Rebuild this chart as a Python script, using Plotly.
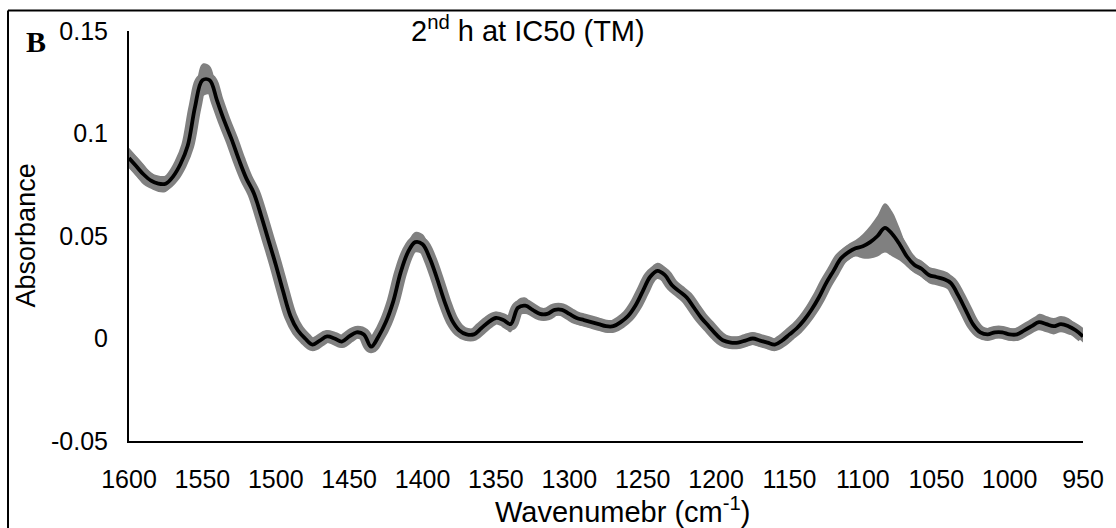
import plotly.graph_objects as go

# ---- data ----
wavenumber = list(range(1600, 945, -5))
absorbance = [
    0.088, 0.084, 0.080, 0.077, 0.0755, 0.0755, 0.079, 0.085, 0.094, 0.113,   # 1600-1555
    0.126, 0.126, 0.116, 0.106, 0.097, 0.087, 0.078, 0.071, 0.060, 0.048,     # 1550-1505
    0.036, 0.023, 0.011, 0.004, 0.000, -0.003, -0.001, 0.001, 0.000, -0.0015, # 1500-1455
    0.001, 0.003, 0.002, -0.004, 0.001, 0.008, 0.018, 0.032, 0.042, 0.047,    # 1450-1405
    0.046, 0.039, 0.029, 0.018, 0.009, 0.004, 0.002, 0.002, 0.005, 0.008,     # 1400-1355
    0.010, 0.009, 0.007, 0.015, 0.016, 0.014, 0.012, 0.012, 0.014, 0.014,     # 1350-1305
    0.012, 0.010, 0.009, 0.008, 0.007, 0.006, 0.006, 0.008, 0.011, 0.016,     # 1300-1255
    0.023, 0.030, 0.033, 0.031, 0.026, 0.023, 0.020, 0.015, 0.010, 0.006,     # 1250-1205
    0.002, -0.001, -0.002, -0.002, -0.001, 0.000, -0.001, -0.002, -0.003, -0.001,  # 1200-1155
    0.002, 0.005, 0.009, 0.014, 0.020, 0.027, 0.033, 0.039, 0.042, 0.044,     # 1150-1105
    0.045, 0.047, 0.050, 0.054, 0.051, 0.046, 0.040, 0.036, 0.034, 0.031,     # 1100-1055
    0.030, 0.029, 0.027, 0.021, 0.014, 0.007, 0.003, 0.002, 0.003, 0.003,     # 1050-1005
    0.002, 0.002, 0.004, 0.006, 0.008, 0.007, 0.006, 0.007, 0.006, 0.004,     # 1000-955
    0.001,                                                                    # 950
]
error = [
    0.005, 0.005, 0.005, 0.004, 0.004, 0.004, 0.004, 0.005, 0.005, 0.006,
    0.008, 0.007, 0.005, 0.004, 0.004, 0.004, 0.004, 0.003, 0.003, 0.003,
    0.003, 0.003, 0.003, 0.003, 0.003, 0.003, 0.003, 0.003, 0.003, 0.003,
    0.003, 0.003, 0.003, 0.003, 0.003, 0.003, 0.004, 0.005, 0.005, 0.005,
    0.005, 0.005, 0.004, 0.003, 0.003, 0.003, 0.003, 0.003, 0.003, 0.003,
    0.003, 0.003, 0.004, 0.004, 0.004, 0.003, 0.003, 0.003, 0.003, 0.003,
    0.003, 0.003, 0.003, 0.003, 0.003, 0.003, 0.003, 0.003, 0.003, 0.003,
    0.003, 0.004, 0.004, 0.004, 0.003, 0.003, 0.003, 0.003, 0.003, 0.003,
    0.003, 0.003, 0.003, 0.003, 0.003, 0.003, 0.003, 0.003, 0.003, 0.003,
    0.003, 0.003, 0.003, 0.003, 0.003, 0.003, 0.004, 0.004, 0.004, 0.004,
    0.006, 0.008, 0.010, 0.012, 0.011, 0.008, 0.005, 0.004, 0.004, 0.004,
    0.004, 0.004, 0.004, 0.003, 0.003, 0.003, 0.003, 0.003, 0.003, 0.003,
    0.003, 0.003, 0.003, 0.003, 0.004, 0.004, 0.004, 0.004, 0.004, 0.003,
    0.003,
]
x_ticks = list(range(1600, 949, -50))
y_ticks = [-0.05, 0, 0.05, 0.1, 0.15]
y_tick_text = ["-0.05", "0", "0.05", "0.1", "0.15"]

upper = [a + e for a, e in zip(absorbance, error)]
lower = [a - e for a, e in zip(absorbance, error)]

W, H = 1116, 528
ML, MR, MT, MB = 129, 29, 31, 87
PW, PH = W - ML - MR, H - MT - MB


def px(x):
    return (x - ML) / PW


def py(y):
    return 1 - (y - MT) / PH


GRAY = "#808080"
FONT = "Liberation Sans, Arial, sans-serif"

fig = go.Figure()
fig.add_trace(go.Scatter(x=wavenumber, y=upper, mode="lines", line=dict(width=0, color=GRAY, shape="spline"),
                         showlegend=False, hoverinfo="skip"))
fig.add_trace(go.Scatter(x=wavenumber, y=lower, mode="lines", line=dict(width=0, color=GRAY, shape="spline"),
                         fill="tonexty", fillcolor=GRAY, showlegend=False, hoverinfo="skip"))
fig.add_trace(go.Scatter(x=wavenumber, y=absorbance, mode="lines", line=dict(width=13, color=GRAY, shape="spline"),
                         showlegend=False, hoverinfo="skip"))
fig.add_trace(go.Scatter(x=wavenumber, y=absorbance, mode="lines", line=dict(width=3.8, color="black", shape="spline"),
                         showlegend=False))

fig.update_layout(
    width=W, height=H,
    margin=dict(l=ML, r=MR, t=MT, b=MB, pad=0),
    paper_bgcolor="white", plot_bgcolor="white",
    font=dict(family=FONT, size=25, color="black"),
    xaxis=dict(range=[1600, 950], tickvals=x_ticks, ticktext=[str(v) for v in x_ticks],
               showgrid=False, zeroline=False, showline=True, linecolor="black", linewidth=2,
               ticks="", ticklabelstandoff=15, tickfont=dict(size=25, family=FONT, color="black")),
    yaxis=dict(range=[-0.05, 0.15], tickvals=y_ticks, ticktext=y_tick_text,
               showgrid=False, zeroline=False, showline=True, linecolor="black", linewidth=2,
               ticks="", ticklabelstandoff=14, tickfont=dict(size=25, family=FONT, color="black")),
    shapes=[
        dict(type="line", xref="paper", yref="paper", x0=px(7.5), y0=py(10.5), x1=px(1300), y1=py(10.5),
             line=dict(color="black", width=2)),
        dict(type="line", xref="paper", yref="paper", x0=px(7.5), y0=py(10.5), x1=px(7.5), y1=py(700),
             line=dict(color="black", width=2)),
    ],
    annotations=[
        dict(text="2<sup>nd</sup> h at IC50 (TM)", xref="paper", yref="paper", x=px(530), y=py(29),
             showarrow=False, xanchor="center", yanchor="middle", font=dict(size=29, family=FONT, color="black")),
        dict(text="<b>B</b>", xref="paper", yref="paper", x=px(36), y=py(41),
             showarrow=False, xanchor="center", yanchor="middle",
             font=dict(size=30, family="Liberation Serif, Times New Roman, serif", color="black")),
        dict(text="Absorbance", xref="paper", yref="paper", x=px(26), y=py(235), textangle=-90,
             showarrow=False, xanchor="center", yanchor="middle", font=dict(size=27, family=FONT, color="black")),
        dict(text="Wavenumebr (cm<sup>-1</sup>)", xref="paper", yref="paper", x=px(625), y=py(510),
             showarrow=False, xanchor="center", yanchor="middle", font=dict(size=29, family=FONT, color="black")),
    ],
)

fig.write_html("out.html", config={"displayModeBar": False},
               post_script="document.body.style.margin='0px';document.body.style.padding='0px';")
